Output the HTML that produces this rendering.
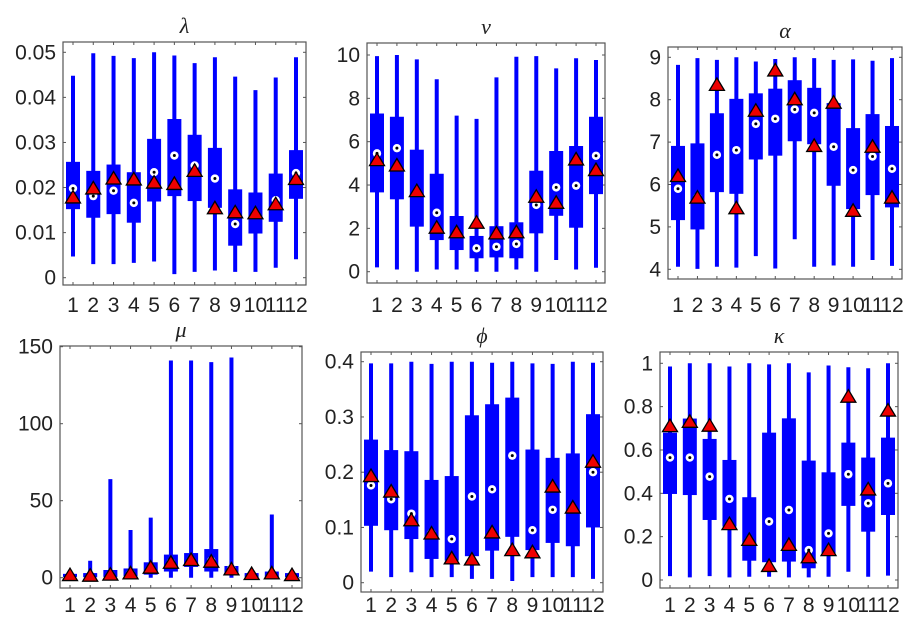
<!DOCTYPE html>
<html><head><meta charset="utf-8">
<style>
html,body{margin:0;padding:0;background:#fff;}
svg{display:block;}
</style></head>
<body>
<svg id="fig" width="920" height="632" viewBox="0 0 920 632"></svg>
<script>
const categories=[1,2,3,4,5,6,7,8,9,10,11,12];
// lambda
const lamLo=[0.0047,0.003,0.003,0.0033,0.0036,0.0008,0.0013,0.0016,0.0013,0.0013,0.0022,0.0041];
const lamQ1=[0.0152,0.0133,0.0141,0.0122,0.0169,0.0181,0.017,0.0155,0.0071,0.0098,0.0124,0.0175];
const lamQ3=[0.0257,0.0237,0.0251,0.0234,0.0308,0.0352,0.0317,0.0288,0.0196,0.0189,0.0231,0.0283];
const lamHi=[0.0448,0.0498,0.0492,0.0487,0.05,0.0493,0.0476,0.0489,0.0446,0.0416,0.0444,0.0489];
const lamDot=[0.0198,0.0181,0.0193,0.0166,0.0234,0.0271,0.0249,0.022,0.0119,0.0143,0.0172,0.0232];
const lamTri=[0.0178,0.0198,0.022,0.0218,0.0211,0.0208,0.0237,0.0154,0.0145,0.0143,0.0163,0.0219];
const lamTicks=["0","0.01","0.02","0.03","0.04","0.05"];
// nu
const nuLo=[0.2,0.1,0,0.1,0.1,0,0,0.1,0,0.54,0.1,0.18];
const nuQ1=[3.66,3.34,2.08,1.46,1.0,0.62,0.66,0.62,1.77,2.58,2.03,3.58];
const nuQ3=[7.3,7.15,5.63,4.52,2.57,1.65,2.1,2.28,4.66,5.57,5.8,7.15];
const nuHi=[9.95,10,9.8,8.88,7.2,7.05,8.97,9.92,9.95,9.38,9.85,9.77];
const nuDot=[5.46,5.7,3.7,2.72,1.8,1.08,1.15,1.28,3.08,3.89,3.97,5.35];
const nuTri=[5.15,4.9,3.72,2.03,1.82,2.26,1.77,1.82,3.46,3.18,5.18,4.69];
const nuTicks=["0","2","4","6","8","10"];
// alpha
const alLo=[4.06,4.01,4.06,4.04,4.31,4.02,4.71,4.06,4.09,4.06,4.22,4.08];
const alQ1=[5.16,4.94,5.82,5.78,6.59,6.68,7.02,6.95,5.97,5.42,5.75,5.46];
const alQ3=[6.91,6.97,7.68,8.02,8.15,8.26,8.46,8.28,7.92,7.33,7.66,7.38];
const alHi=[8.82,8.98,8.94,9,8.9,8.96,9,8.98,8.94,8.95,8.92,8.98];
const alDot=[5.9,5.7,6.7,6.81,7.43,7.55,7.77,7.69,6.89,6.34,6.66,6.37];
const alTri=[6.2,5.69,8.35,5.44,7.74,8.69,8.01,6.91,7.93,5.38,6.89,5.69];
const alTicks=["4","5","6","7","8","9"];
// mu
const muLo=[0,0,0,0,0,0,0,0,0,0,0,0];
const muQ1=[0.5,0.3,0.5,1,2,4,7,4,2,0.5,0.5,0.3];
const muQ3=[2.5,3,5,6,10,15,16,18.6,7.6,3,4,3];
const muHi=[3,11,64,31,39,141,141,140,143,5,41,4];
const muDot=[1.5,1,2,3,6,10,11,11,6,2,2.5,1.5];
const muTri=[1.7,1.3,2,2.8,6.5,9.7,11.5,10.4,5.4,2.4,2.8,1.7];
const muTicks=["0","50","100","150"];
// phi
const phLo=[0.02,0.01,0.019,0.01,0.01,0.007,0.007,0.003,0.01,0.01,0.01,0.007];
const phQ1=[0.103,0.095,0.079,0.043,0.04,0.048,0.058,0.083,0.059,0.072,0.066,0.1];
const phQ3=[0.259,0.24,0.238,0.186,0.193,0.303,0.323,0.335,0.241,0.226,0.234,0.305];
const phHi=[0.397,0.397,0.4,0.396,0.4,0.4,0.398,0.4,0.397,0.396,0.4,0.398];
const phDot=[0.176,0.151,0.125,0.09,0.079,0.156,0.169,0.23,0.095,0.132,0.135,0.2];
const phTri=[0.193,0.165,0.113,0.089,0.044,0.042,0.091,0.059,0.055,0.174,0.136,0.219];
const phTicks=["0","0.1","0.2","0.3","0.4"];
// kappa
const kaLo=[0.018,0.012,0.018,0.012,0.015,0.015,0.012,0.012,0.015,0.038,0.015,0.02];
const kaQ1=[0.397,0.392,0.277,0.246,0.089,0.082,0.085,0.054,0.123,0.342,0.223,0.3];
const kaQ3=[0.68,0.745,0.651,0.554,0.382,0.68,0.746,0.551,0.497,0.634,0.565,0.657];
const kaHi=[0.985,1,1,0.985,1,0.995,1,0.958,0.99,0.982,0.977,1];
const kaDot=[0.565,0.565,0.477,0.374,0.185,0.27,0.323,0.138,0.215,0.488,0.354,0.446];
const kaTri=[0.71,0.73,0.712,0.258,0.185,0.065,0.162,0.105,0.138,0.846,0.418,0.782];
const kaTicks=["0","0.2","0.4","0.6","0.8","1"];

const NS="http://www.w3.org/2000/svg";
const svg=document.getElementById('fig');
function mk(tag,attrs,parent){const e=document.createElementNS(NS,tag);for(const k in attrs)e.setAttribute(k,attrs[k]);(parent||svg).appendChild(e);return e;}
const FS='21';

const panels=[
 {key:'lambda',title:'λ',L:63,R:306,T:42,B:285,y0:0,y1:0.05,py0:277.7,py1:52.3,x1:73,x12:296,labY:312,ticks:lamTicks,lo:lamLo,q1:lamQ1,q3:lamQ3,hi:lamHi,dot:lamDot,tri:lamTri},
 {key:'nu',title:'ν',L:367,R:605,T:43,B:283,y0:0,y1:10,py0:271.7,py1:55,x1:377,x12:596,labY:312,ticks:nuTicks,lo:nuLo,q1:nuQ1,q3:nuQ3,hi:nuHi,dot:nuDot,tri:nuTri},
 {key:'alpha',title:'α',L:668,R:902,T:47,B:279,y0:4,y1:9,py0:269.3,py1:57.3,x1:678,x12:892,labY:312,ticks:alTicks,lo:alLo,q1:alQ1,q3:alQ3,hi:alHi,dot:alDot,tri:alTri},
 {key:'mu',title:'μ',L:60,R:302,T:346,B:588,y0:0,y1:150,py0:577.7,py1:346.7,x1:70,x12:292,labY:612,ticks:muTicks,lo:muLo,q1:muQ1,q3:muQ3,hi:muHi,dot:muDot,tri:muTri},
 {key:'phi',title:'ϕ',L:361,R:603,T:352,B:592,y0:0,y1:0.4,py0:582.7,py1:361.7,x1:371,x12:593,labY:612,ticks:phTicks,lo:phLo,q1:phQ1,q3:phQ3,hi:phHi,dot:phDot,tri:phTri},
 {key:'kappa',title:'κ',L:660,R:898,T:352,B:588,y0:0,y1:1,py0:580,py1:363.3,x1:670,x12:888,labY:612,ticks:kaTicks,lo:kaLo,q1:kaQ1,q3:kaQ3,hi:kaHi,dot:kaDot,tri:kaTri}
];

panels.forEach(p=>{
  const g=mk('g',{});
  
  
  const ys=v=>p.py0+(v-p.y0)/(p.y1-p.y0)*(p.py1-p.py0);
  const xs=i=>p.x1+(i-1)*(p.x12-p.x1)/11;
  const t=mk('text',{x:(p.L+p.R)/2,y:p.T-9,'text-anchor':'middle','font-family':'Liberation Serif, serif','font-style':'italic','font-size':'22',fill:'#222'},g);
  t.textContent=p.title;
  
  
  p.ticks.forEach(s=>{
    const v=parseFloat(s), y=ys(v);
    const tl=mk('text',{x:p.L-7,y:y+7,'text-anchor':'end','font-family':'Liberation Sans, Arial, sans-serif','font-size':FS,fill:'#222'},g);
    tl.textContent=s;
    
    
    mk('line',{x1:p.L,x2:p.L+3,y1:y,y2:y,stroke:'#555','stroke-width':1},g);
    mk('line',{x1:p.R,x2:p.R-3,y1:y,y2:y,stroke:'#555','stroke-width':1},g);
  });
  categories.forEach((c,k)=>{
    const x=xs(c);
    const tl=mk('text',{x:x,y:p.labY,'text-anchor':'middle','font-family':'Liberation Sans, Arial, sans-serif','font-size':FS,fill:'#222'},g);
    tl.textContent=String(c);
    
    
    mk('line',{x1:x,x2:x,y1:p.B,y2:p.B-3,stroke:'#555','stroke-width':1},g);
    mk('line',{x1:x,x2:x,y1:p.T,y2:p.T+3,stroke:'#555','stroke-width':1},g);
    const w=mk('line',{x1:x,x2:x,y1:ys(p.lo[k]),y2:ys(p.hi[k]),stroke:'#0000ff','stroke-width':4},g);
    
    
    const ya=ys(p.q3[k]),yb=ys(p.q1[k]);
    const b=mk('rect',{x:x-7,y:ya,width:14,height:Math.max(1,yb-ya),fill:'#0000ff'},g);
    
    
    const yd=ys(p.dot[k]);
    const d=mk('circle',{cx:x,cy:yd,r:4.2,fill:'#fff'},g);
    
    
    mk('circle',{cx:x,cy:yd,r:1.5,fill:'#000'},g);
    const yt=ys(p.tri[k]);
    const tr=mk('polygon',{points:`${x-7.5},${yt+5.5} ${x+7.5},${yt+5.5} ${x},${yt-7}`,fill:'#ee0000',stroke:'#000','stroke-width':1.3},g);
    
    
  });
  const fr=mk('rect',{x:p.L,y:p.T,width:p.R-p.L,height:p.B-p.T,fill:'none',stroke:'#555','stroke-width':1.2},g);
  
  
});
</script>
</body></html>
